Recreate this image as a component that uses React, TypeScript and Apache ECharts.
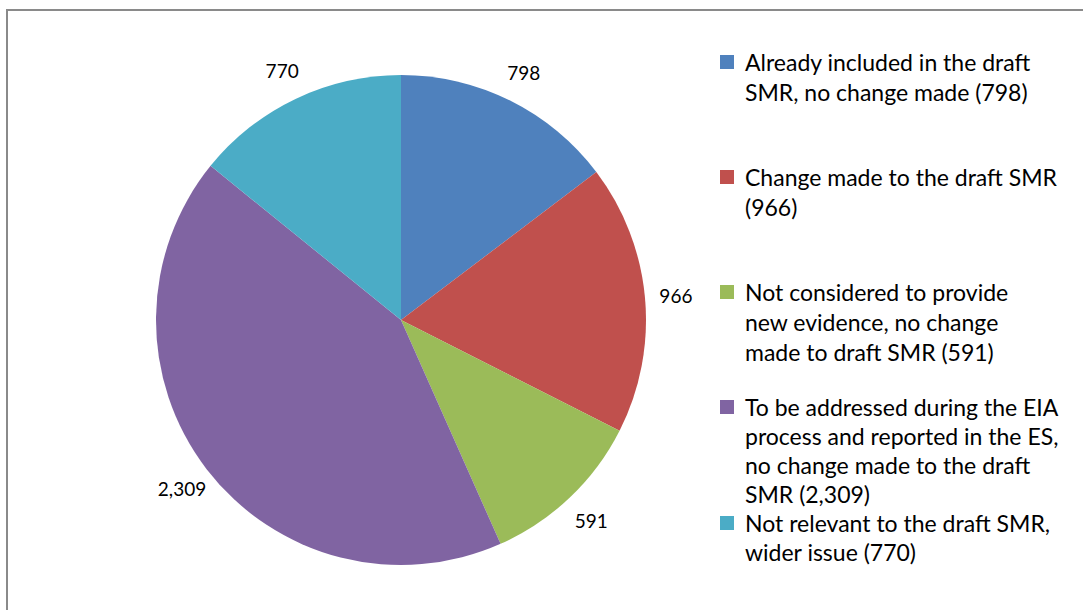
import React, { useEffect, useRef } from "react";
import * as echarts from "echarts";

const categories = [
  "Already included in the draft SMR, no change made",
  "Change made to the draft SMR",
  "Not considered to provide new evidence, no change made to draft SMR",
  "To be addressed during the EIA process and reported in the ES, no change made to the draft SMR",
  "Not relevant to the draft SMR, wider issue",
];
const values = [798, 966, 591, 2309, 770];
const legendLines = [
  ["Already included in the draft", "SMR, no change made (798)"],
  ["Change made to the draft SMR", "(966)"],
  ["Not considered to provide", "new evidence, no change", "made to draft SMR (591)"],
  ["To be addressed during the EIA", "process and reported in the ES,", "no change made to the draft", "SMR (2,309)"],
  ["Not relevant to the draft SMR,", "wider issue (770)"],
];
const colors = ["#4F81BD", "#C0504D", "#9BBB59", "#8064A2", "#4BACC6"];

const FONT = "Lato, 'Open Sans', sans-serif";

export default function App() {
  const ref = useRef<HTMLDivElement>(null);
  useEffect(() => {
    if (!ref.current) return;
    const chart = echarts.init(ref.current, undefined, { renderer: "svg" });
    const data = categories.map((c, i) => ({ name: c, value: values[i], itemStyle: { color: colors[i] } }));
    const graphic: any[] = [
      {
        type: "rect",
        shape: { x: 7, y: 10, width: 1200, height: 700 },
        style: { fill: "none", stroke: "#8a8a8a", lineWidth: 2 },
        silent: true,
      },
    ];
    const tops = [62, 177, 292, 407, 523];
    legendLines.forEach((lines, i) => {
      const top = tops[i];
      const lh = i >= 3 ? 29 : 30;
      graphic.push({
        type: "rect",
        shape: { x: 720, y: top - 7, width: 14, height: 14 },
        style: { fill: colors[i] },
      });
      graphic.push({
        type: "text",
        x: 745,
        y: top - lh / 2,
        style: {
          text: lines.join("\n"),
          font: `23px ${FONT}`,
          lineHeight: lh,
          fill: "#000",
          textVerticalAlign: "top",
        },
      });
    });
    chart.setOption({
      animation: false,
      backgroundColor: "#fff",
      graphic,
      series: [
        {
          type: "pie",
          center: [401, 320],
          radius: [0, 245],
          startAngle: 90,
          clockwise: true,
          data,
          label: { show: false },
          labelLine: { show: false },
          silent: true,
        },
        {
          type: "pie",
          center: [401, 320],
          radius: [260, 286],
          startAngle: 90,
          clockwise: true,
          data: categories.map((c, i) => ({ name: c, value: values[i] })),
          itemStyle: { color: "rgba(0,0,0,0)" },
          label: {
            show: true,
            position: "inside",
            color: "#000",
            fontFamily: FONT,
            fontSize: 19,
            formatter: (p: any) => Number(p.value).toLocaleString("en-US"),
          },
          labelLine: { show: false },
          silent: true,
        },
      ],
    });
    return () => chart.dispose();
  }, []);
  return (
    <div
      ref={ref}
      style={{ position: "absolute", left: 0, top: 0, width: 1083, height: 610 }}
    />
  );
}
